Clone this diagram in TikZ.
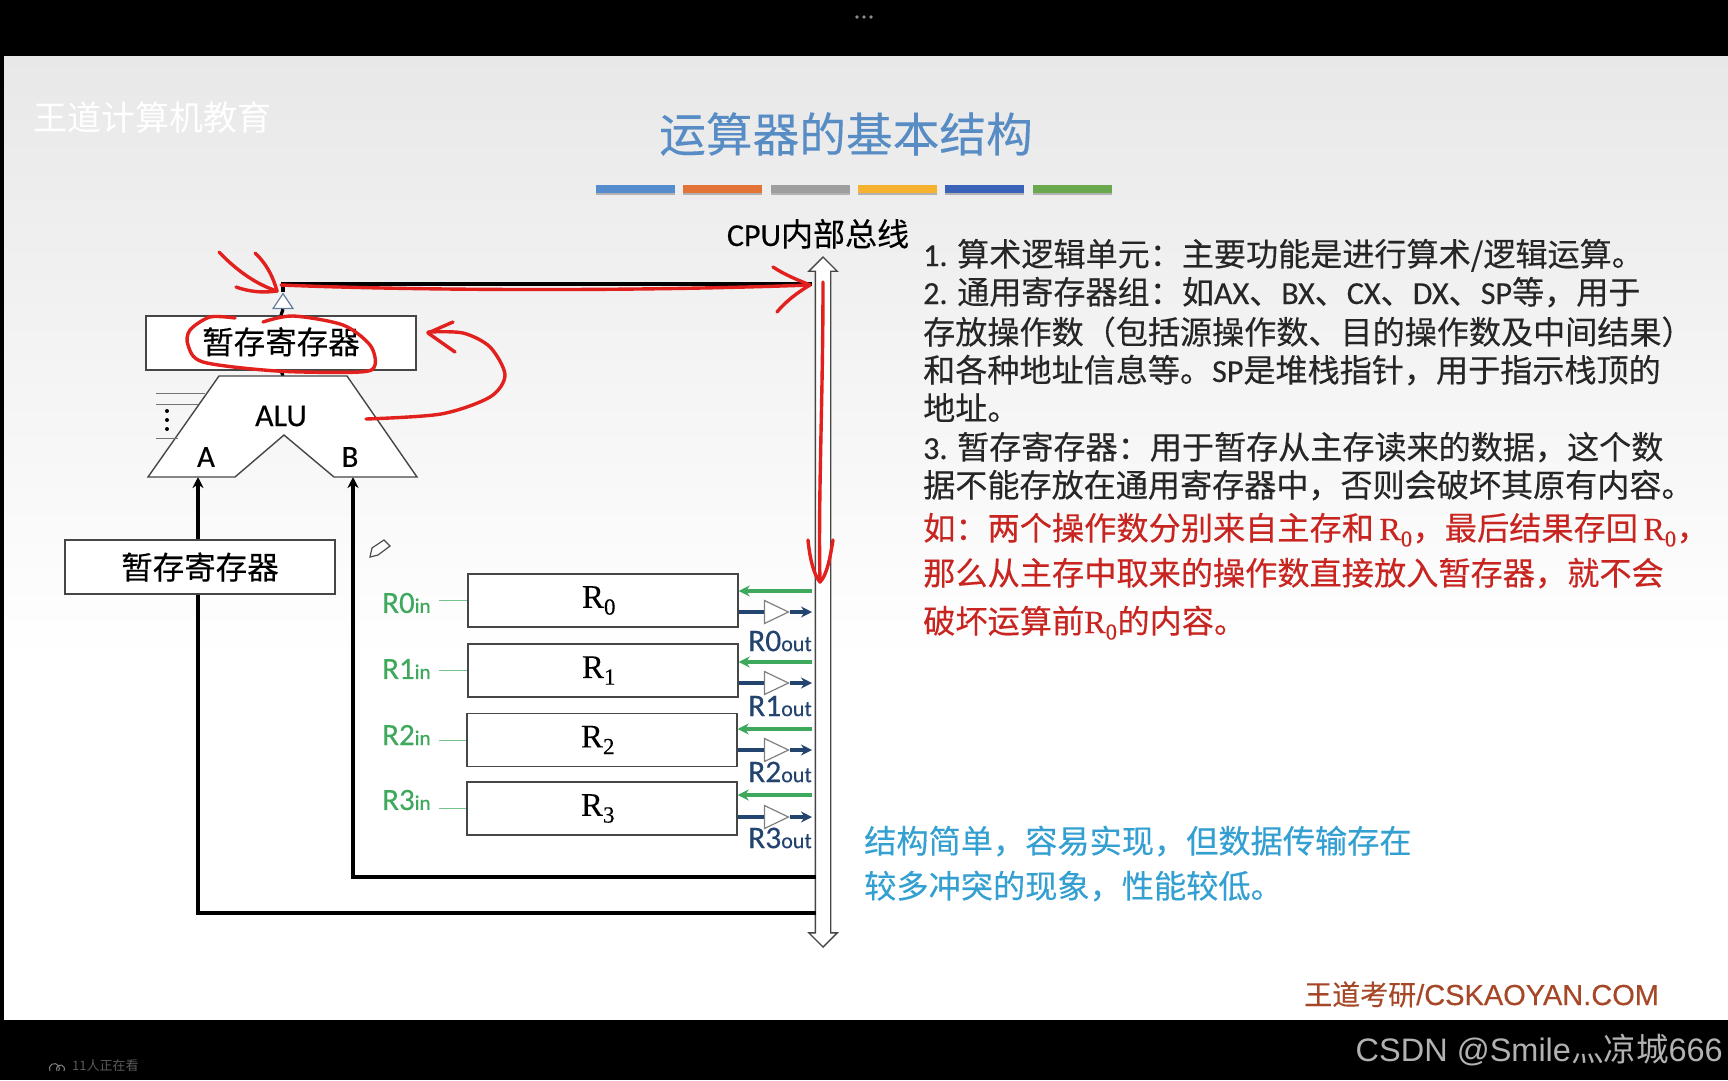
\documentclass[tikz,border=0pt]{standalone}
\usepackage{fontspec}
\setmainfont[FakeBold=0.25]{Noto Sans CJK SC}
\newfontfamily\plain{Noto Sans CJK SC}
\newfontfamily\lat[FakeBold=0.25]{Carlito}
\newfontfamily\rgfont[FakeBold=0.2]{Liberation Serif}
\newfontfamily\arl{Liberation Sans}
\newfontfamily\arlb[FakeBold=0.3]{Liberation Sans}
\usetikzlibrary{arrows.meta,positioning,calc,shapes.geometric,shapes.arrows}
\definecolor{ttl}{RGB}{88,140,196}
\definecolor{grn}{RGB}{62,168,92}
\definecolor{navy}{RGB}{36,68,112}
\definecolor{inkred}{RGB}{226,32,30}
\definecolor{txtred}{RGB}{200,36,32}
\definecolor{txtblue}{RGB}{52,160,210}
\definecolor{foot}{RGB}{166,72,40}
\definecolor{edge}{RGB}{70,70,70}
\definecolor{barb}{RGB}{84,140,205}
\definecolor{baro}{RGB}{226,116,56}
\definecolor{barg}{RGB}{158,158,158}
\definecolor{bary}{RGB}{244,178,46}
\definecolor{barn}{RGB}{58,98,184}
\definecolor{barl}{RGB}{106,168,78}
\newcommand{\rg}[1]{{\rgfont R\textsubscript{#1}}}
\tikzset{
  >={Stealth[length=11pt,width=11pt]},
  every node/.style={inner sep=0pt},
  reg/.style={draw=edge,line width=1.4pt,fill=white,minimum height=53pt,minimum width=270pt,font=\fontsize{31.5}{36}\selectfont},
  tri/.style={isosceles triangle,isosceles triangle stretches,draw=#1,line width=1.2pt,fill=white,minimum width=23pt,minimum height=24pt},
  wire/.style={line width=3.2pt,black},
  gflow/.style={->,line width=3.4pt,grn},
  bflow/.style={line width=3.4pt,navy},
  txt/.style={anchor=base west,font=\fontsize{32.1}{36}\selectfont,color=black!85},
  redtxt/.style={txt,font=\fontsize{32.2}{36}\selectfont,color=txtred},
  bluetxt/.style={txt,font=\fontsize{32.2}{36}\selectfont,color=txtblue},
  ink/.style={line width=3.4pt,inkred,line cap=round,line join=round},
}
\begin{document}
\begin{tikzpicture}[x=1pt,y=-1pt]
  \useasboundingbox (0,0) rectangle (1728,1080);
  % screen and slide
  \fill[black] (0,0) rectangle (1728,1080);
  \fill[white] (4,56) rectangle (1728,1020);
  \shade[top color=black!9,bottom color=white] (4,56) rectangle (1728,660);
  \foreach \x in {857,864,871}{
    \fill[black!45] (\x,17) circle (1.8);
  }
  \draw[black!50,line width=1pt] (50,1071) arc[start angle=150,end angle=390,radius=5];
  \draw[black!50,line width=1pt] (57,1071) arc[start angle=150,end angle=390,radius=4];
  \node[anchor=west,font=\plain\fontsize{13}{15}\selectfont,color=black!65!white] (viewers) at (72,1066) {11人正在看};
  \node[anchor=base east,font=\fontsize{32.5}{36}\selectfont\arl,color=black!30] (csdn) at (1723,1061) {CSDN @Smile{\plain 灬凉城}666};

  % title
  \node[anchor=west,font=\plain\fontsize{34}{38}\selectfont,color=white] (brand) at (33,118) {王道计算机教育};
  \node[font=\fontsize{46.7}{50}\selectfont,color=ttl] (title) at (846,134) {运算器的基本结构};
  \foreach \x/\c in {596/barb,683/baro,771/barg,858/bary,945/barn,1033/barl}{
    \fill[black!30] (\x,189) rectangle ++(79,6);
    \fill[\c] (\x,185) rectangle ++(79,8);
  }

  % bus
  \node[double arrow,double arrow head extend=6.5pt,inner ysep=7pt,draw=edge,line width=1.4pt,fill=white,rotate=90,minimum height=690pt] (bus) at (823,602) {};
  \node[anchor=base,font=\fontsize{32}{36}\selectfont] (busname) at (818,246) {{\lat CPU}内部总线};
  \coordinate (busT) at (812,284);
  \coordinate (busA) at (816,913);
  \coordinate (busB) at (816,877);

  % wires into the ALU, behind the left register
  \coordinate (aIn) at (198,477);
  \coordinate (bIn) at (353,477);
  \draw[wire,->] (busA) -| (aIn);
  \draw[wire,->] (busB) -| (bIn);

  % registers at the ALU
  \node[reg,minimum height=54pt] (tmpA) at (200,567) {\raisebox{2pt}{暂存寄存器}};
  \node[reg,minimum height=54pt] (tmpT) at (281,343) {\raisebox{5pt}{暂存寄存器}};
  \coordinate (aluT) at (283,376);
  \draw[wire] (tmpT.south) -- (aluT);
  \draw[draw=edge,line width=1.4pt,fill=white] (219,376) -- (347,376) -- (417,477) -- (334,477) -- (284,435) -- (235,477) -- (148,477) -- cycle;
  \draw[black!55,line width=1pt] (156,393) -- (205,393);
  \draw[black!55,line width=1pt] (156,404) -- (198,404);
  \draw[black!55,line width=1pt] (156,438) -- (178,438);
  \foreach \y in {411,420,429}{
    \fill[black] (167,\y) circle (2);
  }
  \node[font=\fontsize{32}{34}\selectfont\lat] (alu) at (281,416) {ALU};
  \node[font=\fontsize{31}{34}\selectfont\lat] (aport) at (206,457) {A};
  \node[font=\fontsize{31}{34}\selectfont\lat] (bport) at (350,457) {B};

  % output buffer of the top register
  \node[tri=navy!70,shape border rotate=90,minimum width=20pt,minimum height=15pt,anchor=apex] (trT) at (283,292) {};
  \coordinate (busL) at (281,284);
  \draw[wire] (tmpT.north) -- (trT.south);
  \draw[wire] (trT.apex) -- (283,284);
  \draw[wire] (busL) -- (busT);

  % general registers
  \foreach \i/\xc/\yc/\yg/\yb/\yo/\yn in {0/603/600.5/591/612/641/603,1/603/670.5/662/683/706/669,2/602/740/729/750/772/735,3/602/808.5/795/817/838/800}{
    \node[reg] (R\i) at (\xc,\yc) {\hspace*{-8pt}\raisebox{-3pt}{\fontsize{33}{36}\selectfont\rg{\i}}};
    \coordinate (g\i) at (812,\yg);
    \coordinate (b\i) at (812,\yb);
    \draw[gflow] (g\i) -- (R\i.east |- g\i);
    \node[tri=black!50,anchor=apex] (t\i) at (790,\yb) {};
    \draw[bflow] (R\i.east |- b\i) -- (t\i.west);
    \draw[bflow,->] (t\i.apex) -- (b\i);
    \node[anchor=east,font=\lat,color=navy] (ro\i) at (812,\yo) {\fontsize{31.5}{34}\selectfont R\i\fontsize{22}{24}\selectfont out};
    \node[anchor=west,font=\lat,color=grn] (ri\i) at (382,\yn) {\fontsize{31}{34}\selectfont R\i\fontsize{21}{24}\selectfont in};
    \coordinate (ti\i) at (439,\yc);
    \draw[grn!70,line width=1pt] (ti\i) -- (R\i.west);
  }

  % text on the right
  \node[txt] (l1) at (923,266) {{\lat 1.} 算术逻辑单元：主要功能是进行算术/逻辑运算。};
  \node[txt] (l2) at (923,304) {{\lat 2.} 通用寄存器组：如{\lat AX}、{\lat BX}、{\lat CX}、{\lat DX}、{\lat SP}等，用于};
  \node[txt] (l3) at (923,344) {存放操作数（包括源操作数、目的操作数及中间结果）};
  \node[txt] (l4) at (923,382) {和各种地址信息等。{\lat SP}是堆栈指针，用于指示栈顶的};
  \node[txt] (l5) at (923,420) {地址。};
  \node[txt] (l6) at (923,459) {{\lat 3.} 暂存寄存器：用于暂存从主存读来的数据，这个数};
  \node[txt] (l7) at (923,497) {据不能存放在通用寄存器中，否则会破坏其原有内容。};
  \node[redtxt] (l8) at (923,540) {如：两个操作数分别来自主存和\,\rg{0}，最后结果存回\,\rg{0}，};
  \node[redtxt] (l9) at (923,585) {那么从主存中取来的操作数直接放入暂存器，就不会};
  \node[redtxt] (l10) at (923,633) {破坏运算前\rg{0}的内容。};
  \node[bluetxt] (n1) at (864,853) {结构简单，容易实现，但数据传输存在};
  \node[bluetxt] (n2) at (864,898) {较多冲突的现象，性能较低。};
  \node[anchor=base west,font=\fontsize{28}{32}\selectfont,color=foot] (site) at (1304,1005) {王道考研{\arlb\fontsize{29}{32}\selectfont /CSKAOYAN.COM}};

  % pencil cursor
  \draw[black!70,line width=1.2pt,fill=white] (370,557) -- (372,548) -- (384,540) -- (390,546) -- (378,555) -- cycle;

  % hand-drawn marks
  \draw[ink] (219,252) .. controls (238,272) and (258,285) .. (277,291);
  \draw[ink] (255,253) .. controls (268,265) and (274,280) .. (277,291);
  \draw[ink] (236,287) .. controls (250,292) and (264,293) .. (277,291);
  \draw[ink] (281,285) .. controls (400,290) and (620,292) .. (810,285);
  \draw[ink] (773,267) .. controls (785,275) and (798,280) .. (810,285) .. controls (798,292) and (785,302) .. (777,312);
  \draw[ink] (823,282) .. controls (823,400) and (818,500) .. (820,582);
  \draw[ink] (808,540) .. controls (810,560) and (814,575) .. (820,582) .. controls (827,575) and (830,558) .. (833,540);
  \draw[ink] plot[smooth] coordinates {(235,318) (210,317) (190,330) (188,345) (203,362) (277,371) (360,372) (375,365) (370,345) (343,325) (293,316) (263,322)};
  \draw[ink] plot[smooth] coordinates {(366,419) (441,414) (490,397) (505,375) (490,347) (463,333) (428,332)};
  \draw[ink] (453,322) -- (428,333) -- (455,352);
\end{tikzpicture}
\end{document}
